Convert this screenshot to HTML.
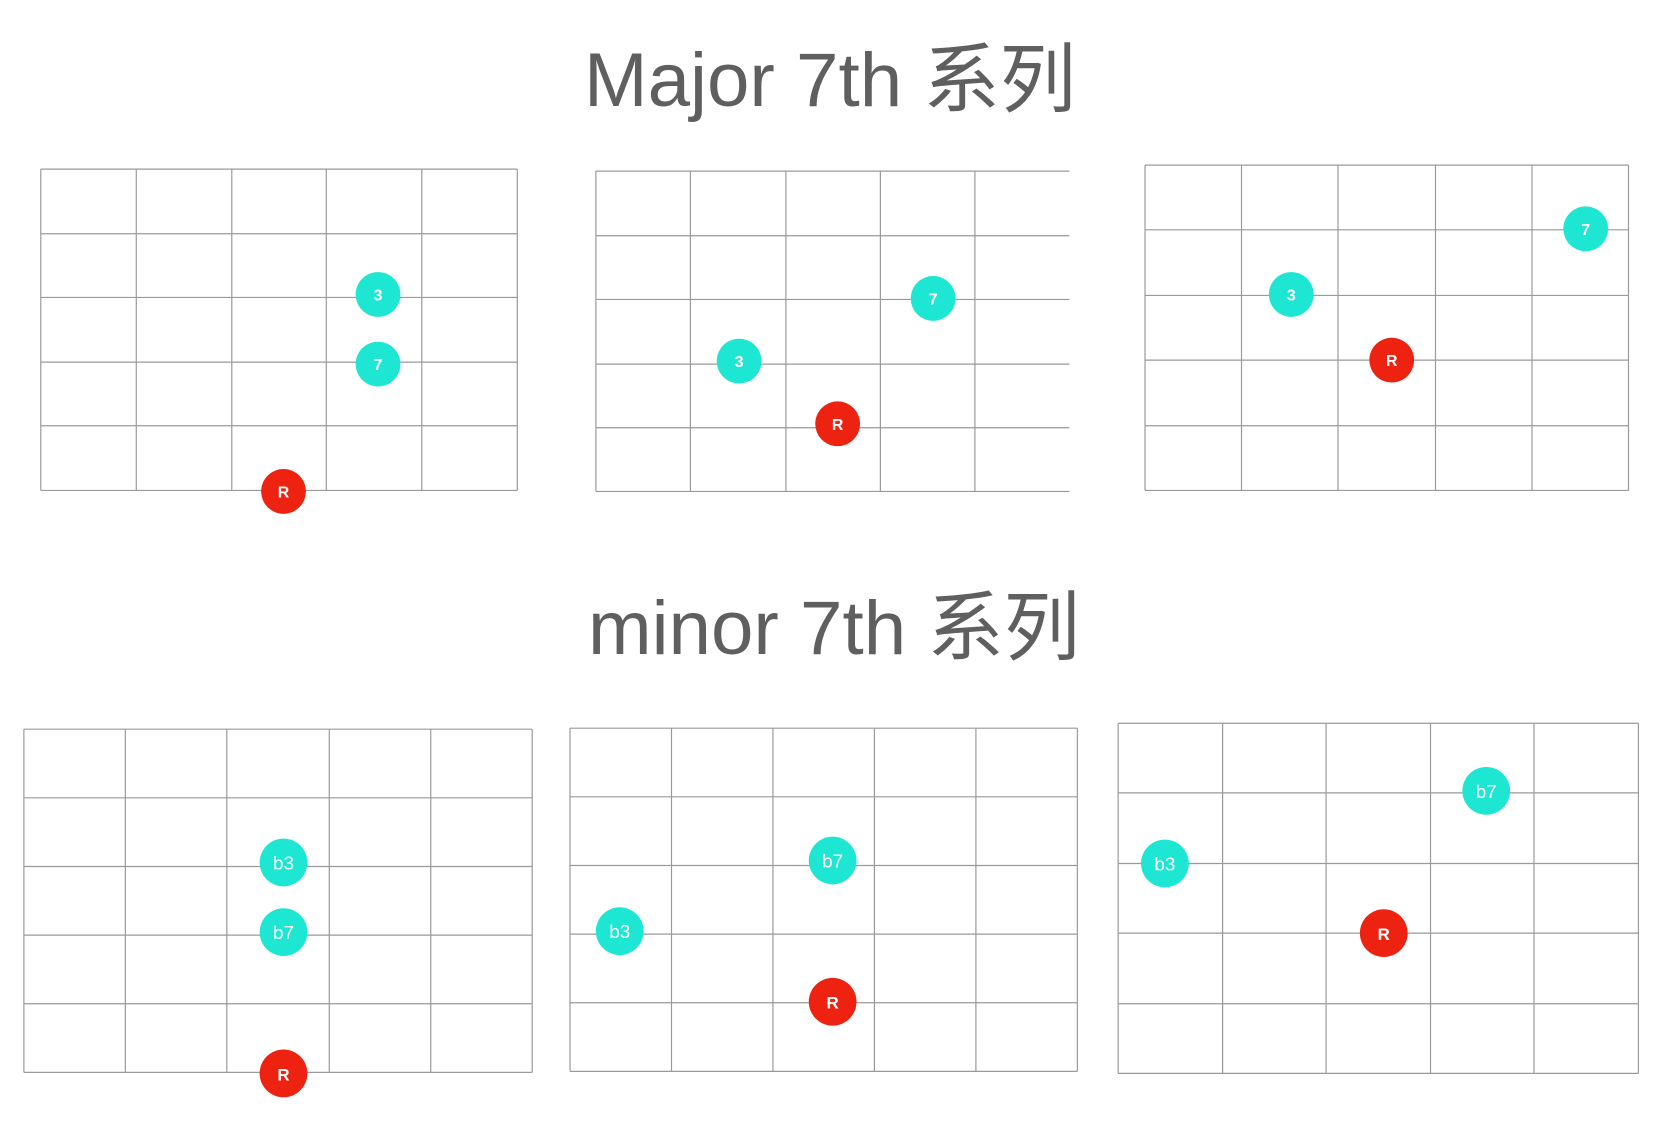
<!DOCTYPE html>
<html><head><meta charset="utf-8"><style>html,body{margin:0;padding:0;background:#fff}</style></head>
<body>
<svg width="1680" height="1120" viewBox="0 0 1680 1120" xmlns="http://www.w3.org/2000/svg">
<rect width="1680" height="1120" fill="#fff"/>
<g font-family="Liberation Sans, Noto Sans CJK SC, sans-serif" fill="#5f5f5f">
<text x="584" y="106" font-size="76" textLength="492" lengthAdjust="spacingAndGlyphs">Major 7th 系列</text>
<text x="588" y="654" font-size="76" textLength="492" lengthAdjust="spacingAndGlyphs">minor 7th 系列</text>
</g>
<g transform="scale(0.9948)">
<g stroke="#9a9a9a" stroke-width="1.2" fill="none">
<path d="M41 170H520M41 235H520M41 299H520M41 364H520M41 428H520M41 493H520 M41 170V493M137 170V493M233 170V493M328 170V493M424 170V493M520 170V493"/>
<path d="M599 172H1075M599 237H1075M599 301H1075M599 366H1075M599 430H1075M599 494H1075 M599 172V494M694 172V494M790 172V494M885 172V494M980 172V494"/>
<path d="M1151 166H1637M1151 231H1637M1151 297H1637M1151 362H1637M1151 428H1637M1151 493H1637 M1151 166V493M1248 166V493M1345 166V493M1443 166V493M1540 166V493M1637 166V493"/>
<path d="M24 733H535M24 802H535M24 871H535M24 940H535M24 1009H535M24 1078H535 M24 733V1078M126 733V1078M228 733V1078M331 733V1078M433 733V1078M535 733V1078"/>
<path d="M573 732H1083M573 801H1083M573 870H1083M573 939H1083M573 1008H1083M573 1077H1083 M573 732V1077M675 732V1077M777 732V1077M879 732V1077M981 732V1077M1083 732V1077"/>
<path d="M1124 727H1647M1124 797H1647M1124 868H1647M1124 938H1647M1124 1009H1647M1124 1079H1647 M1124 727V1079M1229 727V1079M1333 727V1079M1438 727V1079M1542 727V1079M1647 727V1079"/>
</g>
<g font-family="Liberation Sans, sans-serif" fill="#fff" text-anchor="middle" font-weight="bold">
<g font-size="16">
<circle cx="380" cy="296" r="22.5" fill="#1de6d2"/><text x="380" y="302">3</text>
<circle cx="380" cy="366" r="22.5" fill="#1de6d2"/><text x="380" y="372">7</text>
<circle cx="285" cy="494" r="22.5" fill="#ee2211"/><text x="285" y="500">R</text>
<circle cx="938" cy="300" r="22.5" fill="#1de6d2"/><text x="938" y="306">7</text>
<circle cx="743" cy="363" r="22.5" fill="#1de6d2"/><text x="743" y="369">3</text>
<circle cx="842" cy="426" r="22.5" fill="#ee2211"/><text x="842" y="432">R</text>
<circle cx="1594" cy="230" r="22.5" fill="#1de6d2"/><text x="1594" y="236">7</text>
<circle cx="1298" cy="296" r="22.5" fill="#1de6d2"/><text x="1298" y="302">3</text>
<circle cx="1399" cy="362" r="22.5" fill="#ee2211"/><text x="1399" y="368">R</text>
</g>
<g font-size="19" font-weight="normal">
<circle cx="285" cy="867" r="24" fill="#1de6d2"/><text x="285" y="874">b3</text>
<circle cx="285" cy="937" r="24" fill="#1de6d2"/><text x="285" y="944">b7</text>
<circle cx="285" cy="1079" r="24" fill="#ee2211"/><text x="285" y="1086" font-weight="bold" font-size="17">R</text>
<circle cx="837" cy="865" r="24" fill="#1de6d2"/><text x="837" y="872">b7</text>
<circle cx="623" cy="936" r="24" fill="#1de6d2"/><text x="623" y="943">b3</text>
<circle cx="837" cy="1007" r="24" fill="#ee2211"/><text x="837" y="1014" font-weight="bold" font-size="17">R</text>
<circle cx="1494" cy="795" r="24" fill="#1de6d2"/><text x="1494" y="802">b7</text>
<circle cx="1171" cy="868" r="24" fill="#1de6d2"/><text x="1171" y="875">b3</text>
<circle cx="1391" cy="938" r="24" fill="#ee2211"/><text x="1391" y="945" font-weight="bold" font-size="17">R</text>
</g>
</g>
</g>
</svg>
</body></html>
